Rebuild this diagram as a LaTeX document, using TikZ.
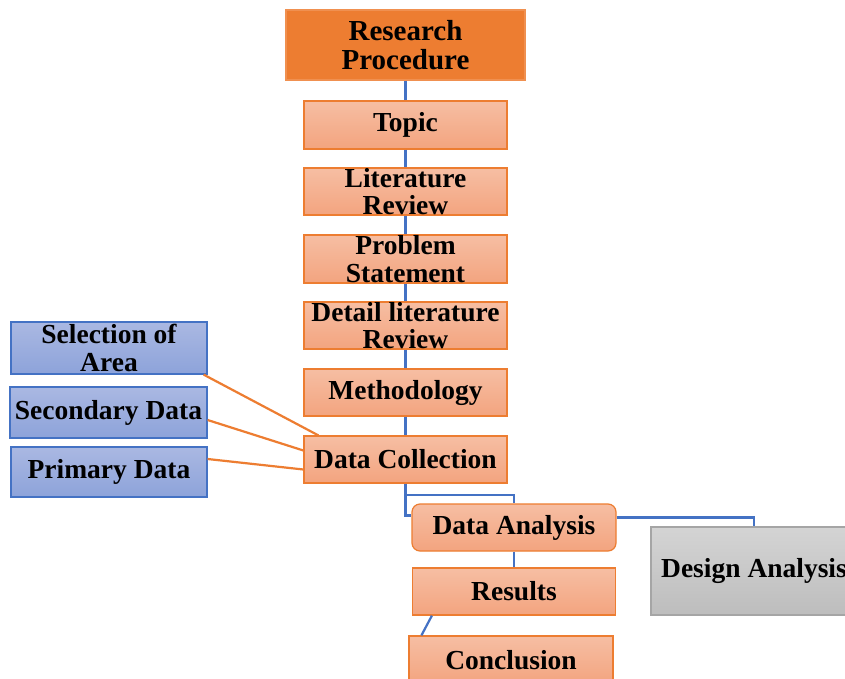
\documentclass[tikz,border=0pt]{standalone}
\usepackage{fontspec}
\setmainfont{Liberation Serif}
\usetikzlibrary{calc}
\definecolor{orangeline}{HTML}{ED7D31}
\definecolor{orangetop}{HTML}{F6BEA3}
\definecolor{orangebot}{HTML}{F3A47F}
\definecolor{blueline}{HTML}{4472C4}
\definecolor{bluetop}{HTML}{AAB8E2}
\definecolor{bluebot}{HTML}{8DA3DA}
\definecolor{graytop}{HTML}{D4D4D4}
\definecolor{graybot}{HTML}{BDBDBD}
\definecolor{grayline}{HTML}{A5A5A5}
\tikzset{
  txt/.style={font=\bfseries\fontsize{27.5}{27.5}\selectfont, align=center, inner sep=0pt, text=black},
  obox/.style={txt, draw=orangeline, line width=1.2pt, top color=orangetop, bottom color=orangebot, minimum width=203pt, minimum height=47pt},
  bbox/.style={txt, draw=blueline, line width=1.2pt, top color=bluetop, bottom color=bluebot, minimum width=196pt, minimum height=51pt},
  gbox/.style={txt, draw=grayline, line width=1.2pt, top color=graytop, bottom color=graybot, minimum width=206pt, minimum height=88pt},
  hbox/.style={txt, font=\bfseries\fontsize{29}{28.5}\selectfont, draw=orangeline!85!white, line width=1.2pt, fill=orangeline, minimum width=239pt, minimum height=70pt},
  bl/.style={draw=blueline, line width=2.2pt},
  ol/.style={draw=orangeline, line width=2.2pt}
}
\begin{document}
\begin{tikzpicture}[x=1pt,y=-1pt]
\useasboundingbox (0,0) rectangle (845,679);
\clip (0,0) rectangle (845,679);
\fill[white] (0,0) rectangle (845,679);
% nodes
\node[hbox] (rp) at (405.5,45) {Research\\Procedure};
\node[obox, minimum height=48pt] (topic) at (405.5,125) {Topic};
\node[obox] (lit) at (405.5,191.5) {Literature\\Review};
\node[obox, minimum height=48pt] (prob) at (405.5,259) {Problem\\Statement};
\node[obox] (detail) at (405.5,325.5) {Detail literature\\Review};
\node[obox] (meth) at (405.5,392.5) {Methodology};
\node[obox] (dc) at (405.5,459.5) {Data Collection};
\node[obox, minimum width=204pt, rounded corners=8pt] (da) at (514,527.5) {Data Analysis};
\node[obox] (res) at (514,591.5) {Results};
\node[obox, minimum width=204pt, minimum height=48pt] (conc) at (511,660) {Conclusion};
\node[gbox] (design) at (754,571) {Design Analysis};
\node[bbox, minimum height=52pt] (sel) at (109,348) {Selection of\\Area};
\node[bbox, minimum width=197pt] (sec) at (108.5,412.5) {Secondary Data};
\node[bbox, minimum height=50pt] (prim) at (109,472) {Primary Data};
% blue connectors
\draw[bl] (rp.south) -- (topic.north);
\draw[bl] (topic.south) -- (lit.north);
\draw[bl] (lit.south) -- (prob.north);
\draw[bl] (prob.south) -- (detail.north);
\draw[bl] (detail.south) -- (meth.north);
\draw[bl] (meth.south) -- (dc.north);
\draw[bl] (dc.south) -- ++(0,11) -| (da.north);
\draw[bl] (dc.south) |- ($(da.west)+(0,-12)$);
\draw[bl] ($(da.east)+(0,-10)$) -| (design.north);
\draw[bl] (da.south) -- (res.north);
\draw[bl] ($(res.south west)+(20,0)$) -- ($(conc.north west)+(13,0)$);
% orange connectors
\draw[ol] ($(sel.south east)+(-4,0)$) -- ($(dc.north west)+(15,0)$);
\draw[ol] ($(sec.east)+(0,7.5)$) -- ($(dc.west)+(0,-9)$);
\draw[ol] ($(prim.east)+(0,-13)$) -- ($(dc.west)+(0,10)$);
\end{tikzpicture}
\end{document}
